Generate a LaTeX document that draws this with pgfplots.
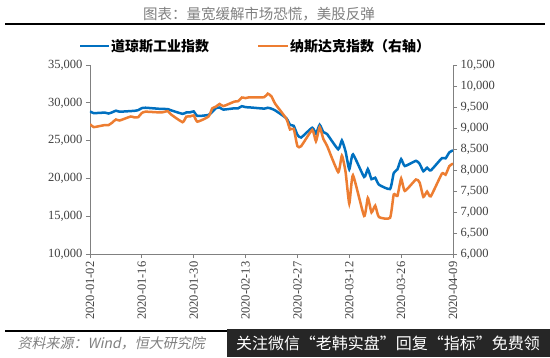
\documentclass[border=0pt]{standalone}
\usepackage{pgfplots}
\pgfplotsset{compat=1.18}
\usepackage{fontspec}
\setmainfont{Liberation Serif}
\newfontfamily\cjk{Noto Sans CJK SC}
\newfontfamily\cjkit[FakeSlant=0.2]{Noto Sans CJK SC}
\definecolor{dowblue}{RGB}{0,112,192}
\definecolor{nasorange}{RGB}{237,125,49}
\definecolor{axgray}{RGB}{128,128,128}
\definecolor{txtgray}{RGB}{64,64,64}
\pgfplotstableread{
x dow
0 28868
1 28634
4 28703
5 28583
6 28745
7 28956
8 28824
11 28907
12 28940
13 29030
14 29298
15 29348
19 29196
20 29186
21 29160
22 28990
25 28535
26 28723
27 28734
28 28859
29 28256
32 28400
33 28807
34 29291
35 29379
36 29103
39 29276
40 29276
41 29551
42 29423
43 29398
47 29232
48 29348
49 29219
50 28992
53 27961
54 27081
55 26957
56 25766
57 25409
60 26703
61 25917
62 27091
63 26121
64 25865
67 23851
68 25018
69 23553
70 21200
71 23186
74 20189
75 21237
76 19899
77 20087
78 19174
81 18592
82 20705
83 21200
84 22552
85 21637
88 22328
89 21917
90 20944
91 21413
92 21053
95 22680
96 22654
97 23434
98 23719
}\dowtable
\pgfplotstableread{
x nas
0 9093
1 9021
4 9071
5 9069
6 9129
7 9203
8 9179
11 9274
12 9251
13 9259
14 9357
15 9389
19 9370
20 9383
21 9402
22 9315
25 9139
26 9270
27 9275
28 9299
29 9151
32 9273
33 9467
34 9508
35 9572
36 9521
39 9629
40 9639
41 9726
42 9712
43 9731
47 9733
48 9818
49 9751
50 9577
53 9221
54 8966
55 8981
56 8567
57 8567
60 8953
61 8684
62 9019
63 8739
64 8576
67 7950
68 8344
69 7952
70 7201
71 7875
74 6905
75 7335
76 6990
77 7151
78 6880
81 6861
82 7418
83 7385
84 7798
85 7502
88 7774
89 7700
90 7361
91 7487
92 7374
95 7913
96 7888
97 8091
98 8153
}\nastable
\begin{document}
\begin{tikzpicture}
\fill[white] (0,0) rectangle (550pt,-357pt);
% title
\node[text=axgray, font=\cjk\fontsize{14.5}{16}\selectfont] at (259pt,-14pt) {图表：量宽缓解市场恐慌，美股反弹};
\draw[black, line width=2pt] (5pt,-24pt) -- (545pt,-24pt);
% legend
\draw[dowblue, line width=2.5pt] (80pt,-46pt) -- (109pt,-46pt);
\node[anchor=west, inner sep=0pt, font=\cjk\bfseries\fontsize{14}{16}\selectfont] at (111pt,-46pt) {道琼斯工业指数};
\draw[nasorange, line width=2.5pt] (258pt,-46pt) -- (288pt,-46pt);
\node[anchor=west, inner sep=0pt, font=\cjk\bfseries\fontsize{14}{16}\selectfont] at (290pt,-46pt) {纳斯达克指数（右轴）};

\begin{axis}[
  at={(90pt,-254pt)}, anchor=south west,
  scale only axis, width=363pt, height=189pt,
  xmin=0, xmax=98, ymin=10000, ymax=35000,
  axis x line*=bottom, axis y line*=left,
  axis line style={axgray, line width=0.9pt},
  tick style={axgray, line width=0.9pt},
  tick align=outside, major tick length=4pt,
  scaled ticks=false,
  xtick={0,14,28,42,56,70,84,98},
  xticklabels={2020-01-02,2020-01-16,2020-01-30,2020-02-13,2020-02-27,2020-03-12,2020-03-26,2020-04-09},
  x tick label style={rotate=90, anchor=east, font=\fontsize{12.5}{14}\selectfont, text=txtgray},
  ytick={10000,15000,20000,25000,30000,35000},
  y tick label style={font=\fontsize{12.5}{14}\selectfont, text=txtgray, /pgf/number format/fixed, /pgf/number format/precision=0, /pgf/number format/1000 sep={,}},
  /pgf/number format/assume math mode=true,
]
\addplot[dowblue, line width=2.5pt, smooth, tension=0.3] table[x=x, y=dow] {\dowtable};
\end{axis}
\begin{axis}[
  at={(90pt,-254pt)}, anchor=south west,
  scale only axis, width=363pt, height=189pt,
  xmin=0, xmax=98, ymin=6000, ymax=10500,
  axis x line=none, axis y line*=right,
  axis line style={axgray, line width=0.9pt},
  tick style={axgray, line width=0.9pt},
  tick align=outside, major tick length=4pt,
  scaled ticks=false,
  ytick={6000,6500,7000,7500,8000,8500,9000,9500,10000,10500},
  y tick label style={font=\fontsize{12.5}{14}\selectfont, text=txtgray, /pgf/number format/fixed, /pgf/number format/precision=0, /pgf/number format/1000 sep={,}},
  /pgf/number format/assume math mode=true,
]
\addplot[nasorange, line width=2.5pt, smooth, tension=0.3] table[x=x, y=nas] {\nastable};
\end{axis}
% bottom
\draw[black, line width=2pt] (5pt,-331pt) -- (545pt,-331pt);
\node[anchor=west, text=axgray, font=\cjkit\fontsize{14}{16}\selectfont] at (14pt,-343pt) {资料来源：Wind，恒大研究院};
\fill[black!85] (227pt,-329pt) rectangle (550pt,-357pt);
\node[text=white, font=\cjk\fontsize{16}{18}\selectfont] at (388pt,-343pt) {关注微信“老韩实盘”回复“指标”免费领};
\end{tikzpicture}
\end{document}
